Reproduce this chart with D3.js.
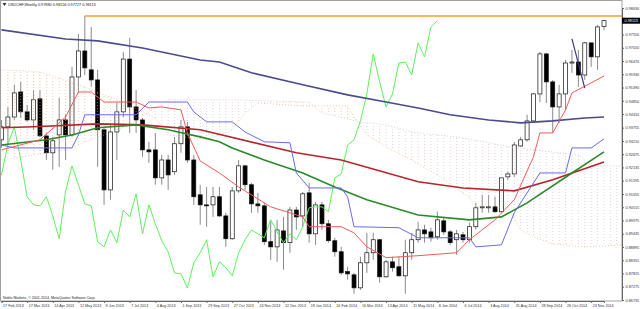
<!DOCTYPE html>
<html>
<head>
<meta charset="utf-8">
<script src="https://cdn.jsdelivr.net/npm/d3@7"></script>
<style>
  body { margin: 0; background: #fff; }
  svg { display: block; font-family: "Liberation Sans", Arial, sans-serif; }
</style>
</head>
<body>
<svg width="640" height="309"></svg>
<script>
// weekly USDCHF bars, index 0 = week of 17 Feb 2013
var opens = [0.9326,0.9379,0.9419,0.9521,0.9440,0.9407,0.9493,0.9342,0.9273,0.9346,
  0.9407,0.9346,0.9582,0.9688,0.9611,0.9570,0.9367,0.9122,0.9358,0.9440,
  0.9655,0.9460,0.9407,0.9285,0.9285,0.9171,0.9244,0.9196,0.9310,0.9379,
  0.9244,0.9102,0.9061,0.9061,0.9094,0.9016,0.8923,0.9118,0.9220,0.9143,
  0.9065,0.9057,0.8911,0.8890,0.8955,0.8907,0.9040,0.9016,0.9110,0.8943,
  0.9061,0.8984,0.8915,0.8870,0.8789,0.8776,0.8723,0.8825,0.8866,0.8919,
  0.8768,0.8829,0.8809,0.8772,0.8866,0.8919,0.8959,0.8951,0.8931,0.8996,
  0.8951,0.8919,0.8939,0.8919,0.8972,0.9049,0.9049,0.9053,0.9033,0.9175,
  0.9187,0.9301,0.9326,0.9403,0.9513,0.9676,0.9562,0.9460,0.9513,0.9639,
  0.9643,0.9590,0.9721,0.9664,0.97880];
var highs = [0.9407,0.9460,0.9550,0.9562,0.9468,0.9529,0.9529,0.9354,0.9338,0.9497,
  0.9428,0.9623,0.9757,0.9831,0.9786,0.9611,0.9375,0.9387,0.9480,0.9684,
  0.9741,0.9529,0.9415,0.9318,0.9354,0.9265,0.9265,0.9338,0.9407,0.9399,
  0.9265,0.9143,0.9134,0.9134,0.9134,0.9029,0.9134,0.9244,0.9224,0.9151,
  0.9110,0.9069,0.9000,0.9000,0.9012,0.9053,0.9053,0.9114,0.9151,0.9073,
  0.9073,0.9000,0.8927,0.8890,0.8809,0.8784,0.8850,0.8947,0.8947,0.8923,
  0.8837,0.8850,0.8850,0.8919,0.8947,0.8992,0.8980,0.8968,0.9033,0.9008,
  0.8959,0.8959,0.8951,0.8988,0.9069,0.9102,0.9102,0.9094,0.9175,0.9196,
  0.9318,0.9338,0.9428,0.9517,0.9684,0.9680,0.9570,0.9550,0.9651,0.9692,
  0.9692,0.9725,0.9721,0.9794,0.98156];
var lows = [0.9293,0.9305,0.9407,0.9415,0.9399,0.9367,0.9338,0.9244,0.9204,0.9216,
  0.9244,0.9338,0.9517,0.9590,0.9542,0.9216,0.9061,0.9082,0.9244,0.9419,
  0.9354,0.9354,0.9257,0.9232,0.9143,0.9143,0.9122,0.9183,0.9273,0.9232,
  0.9061,0.8980,0.8972,0.9012,0.9012,0.8890,0.8919,0.9110,0.9122,0.9029,
  0.9029,0.8898,0.8837,0.8829,0.8797,0.8866,0.8959,0.8972,0.8907,0.8898,
  0.8959,0.8907,0.8850,0.8776,0.8756,0.8699,0.8715,0.8784,0.8837,0.8744,
  0.8764,0.8789,0.8768,0.8699,0.8837,0.8907,0.8907,0.8911,0.8919,0.8939,
  0.8898,0.8858,0.8907,0.8907,0.8960,0.9029,0.9029,0.9029,0.9029,0.9163,
  0.9175,0.9297,0.9318,0.9395,0.9480,0.9476,0.9354,0.9395,0.9448,0.9599,
  0.9542,0.9570,0.9623,0.9611,0.97727];
var closes = [0.9379,0.9419,0.9517,0.9440,0.9407,0.9489,0.9342,0.9273,0.9322,0.9407,
  0.9346,0.9582,0.9688,0.9619,0.9570,0.9367,0.9122,0.9358,0.9440,0.9655,
  0.9460,0.9407,0.9285,0.9277,0.9171,0.9244,0.9183,0.9310,0.9379,0.9244,
  0.9094,0.9061,0.9057,0.9094,0.9016,0.8923,0.9118,0.9220,0.9143,0.9065,
  0.9057,0.8911,0.8890,0.8959,0.8907,0.9040,0.9012,0.9106,0.8943,0.9061,
  0.8984,0.8915,0.8870,0.8784,0.8780,0.8723,0.8825,0.8866,0.8919,0.8768,
  0.8829,0.8805,0.8772,0.8866,0.8919,0.8959,0.8943,0.8927,0.9000,0.8951,
  0.8907,0.8943,0.8919,0.8972,0.9049,0.9053,0.9053,0.9033,0.9171,0.9187,
  0.9305,0.9326,0.9403,0.9513,0.9676,0.9562,0.9460,0.9513,0.9639,0.9643,
  0.9590,0.9721,0.9664,0.9786,0.98113];

// moving averages, [bar, price]
var maSlow = [[0,0.9774],[10,0.9737],[15,0.9729],[22,0.9700],[31,0.9651],[34,0.9643],[39,0.9599],
  [47,0.9550],[54,0.9509],[60,0.9480],[65,0.9456],[70,0.9428],[76,0.9407],[81,0.9395],[86,0.9403],[91,0.9415],[94,0.9419]];
var maMid = [[0,0.9375],[5,0.9379],[15,0.9391],[22,0.9387],[31,0.9367],[46,0.9273],[53,0.9244],
  [65,0.9155],[72,0.9130],[80,0.9118],[86,0.9163],[94,0.9236]];
var maFast = [[0,0.9305],[7,0.9326],[11,0.9346],[15,0.9375],[21,0.9387],[26,0.9367],[31,0.9338],[34,0.9318],
  [36,0.9293],[41,0.9244],[47,0.9191],[52,0.9134],[57,0.9082],[65,0.9020],[73,0.9000],[78,0.9012],[82,0.9069],[89,0.9191],[94,0.9277]];

// ichimoku lines
var tenkan = [[0,0.9285],[6,0.9326],[10,0.9419],[12,0.9521],[14,0.9521],[16,0.9480],[21,0.9480],[23,0.9456],
  [25,0.9460],[28,0.9448],[29,0.9354],[31,0.9240],[34,0.9191],[37,0.9134],[42,0.9053],[47,0.9012],[48,0.8972],
  [53,0.8972],[55,0.8947],[57,0.8890],[60,0.8846],[65,0.8854],[71,0.8866],[73,0.8919],[77,0.9000],[80,0.9082],
  [83,0.9257],[84,0.9354],[86,0.9354],[88,0.9448],[89,0.9517],[92,0.9558],[94,0.9586]];
var kijun = [[0,0.9305],[2,0.9293],[11,0.9293],[12,0.9346],[13,0.9428],[21,0.9428],[23,0.9480],[29,0.9480],
  [30,0.9440],[32,0.9399],[36,0.9399],[38,0.9358],[41,0.9318],[45,0.9314],[46,0.9191],[48,0.9130],[53,0.9130],
  [54,0.9094],[55,0.8972],[62,0.8968],[65,0.8927],[73,0.8927],[74,0.8890],[78,0.8898],[80,0.9029],[84,0.9191],
  [88,0.9191],[89,0.9293],[92,0.9293],[94,0.9330]];
var spanA = [[0,0.9611],[6,0.9603],[12,0.9550],[18,0.9489],[24,0.9415],[26,0.9346],[32,0.9326],[36,0.9367],
  [38,0.9436],[40,0.9476],[47,0.9464],[54,0.9464],[55,0.9419],[57,0.9346],[60,0.9297],[63,0.9257],[68,0.9183],
  [73,0.9090],[74,0.9053],[79,0.9053],[81,0.8959],[83,0.8931],[86,0.8902],[91,0.8890],[94,0.8894],[97,0.8898]];
var spanB = [[0,0.9244],[10,0.9285],[20,0.9387],[26,0.9489],[35,0.9489],[48,0.9480],[50,0.9436],[56,0.9399],
  [60,0.9387],[64,0.9358],[72,0.9334],[80,0.9294],[90,0.9265],[91,0.9243],[92,0.9220],[97,0.9220]];
var chikouShift = 26;

// axis labels
var priceTicks = [0.98630,0.98090,0.97550,0.97010,0.96470,0.95930,0.95390,0.94850,0.94310,0.93755,0.93210,
  0.92675,0.92135,0.91595,0.91055,0.90515,0.89975,0.89435,0.88895,0.88355,0.87815,0.87275,0.86735];
var dateBars = [0,4,8,12,16,20,24,28,32,36,40,44,48,52,56,60,64,68,72,76,80,84,88,92];
var dateLabels = ["17 Feb 2013","17 Mar 2013","14 Apr 2013","12 May 2013","9 Jun 2013","7 Jul 2013",
  "4 Aug 2013","1 Sep 2013","29 Sep 2013","27 Oct 2013","24 Nov 2013","22 Dec 2013","19 Jan 2014",
  "16 Feb 2014","16 Mar 2014","13 Apr 2014","11 May 2014","8 Jun 2014","6 Jul 2014","3 Aug 2014",
  "31 Aug 2014","28 Sep 2014","26 Oct 2014","23 Nov 2014"];

// drawn objects
var resistance = {bar: 13, price: 0.98305};
var trendSeg = [[89, 0.9737], [91, 0.9537]];

var svg = d3.select("svg");
var W = 622, B = 301;

var x = d3.scaleLinear().domain([0, 94]).range([1.5, 604]);
var y = d3.scaleLinear().domain([0.86735, 0.98630]).range([300, 8]);

var defs = svg.append("defs");
defs.append("clipPath").attr("id", "plotclip")
  .append("rect").attr("x", 0).attr("y", 1).attr("width", W).attr("height", B - 1);

// sparse dotted hatch for the cloud
var step = x(1) - x(0);
function hatch(id, color, op) {
  var p = defs.append("pattern").attr("id", id)
    .attr("patternUnits", "userSpaceOnUse")
    .attr("width", step).attr("height", 3)
    .attr("patternTransform", "translate(" + (x(0) - 0.5) + ",0)");
  p.append("rect").attr("x", 0).attr("y", 0).attr("width", 1).attr("height", 1)
    .attr("fill", color).attr("fill-opacity", op);
}
hatch("hatchUp", "#f4a460", 0.6);
hatch("hatchDn", "#c9a6c9", 0.55);

var aboveArea = d3.area().x(function (d) { return x(d[0]); }).y0(1).y1(function (d) { return y(d[1]); });
var belowArea = d3.area().x(function (d) { return x(d[0]); }).y0(B).y1(function (d) { return y(d[1]); });
defs.append("clipPath").attr("id", "belowA").append("path").attr("d", belowArea(spanA));
defs.append("clipPath").attr("id", "belowB").append("path").attr("d", belowArea(spanB));

var g = svg.append("g").attr("clip-path", "url(#plotclip)");

// candles
var bars = d3.range(opens.length).map(function (i) {
  return { i: i, o: opens[i], h: highs[i], l: lows[i], c: closes[i] };
});
g.append("g").selectAll("line").data(bars).enter().append("line")
  .attr("x1", function (d) { return x(d.i); }).attr("x2", function (d) { return x(d.i); })
  .attr("y1", function (d) { return y(d.h); }).attr("y2", function (d) { return y(d.l); })
  .attr("stroke", "#8a8a8a").attr("stroke-width", 1);
g.append("g").selectAll("rect").data(bars).enter().append("rect")
  .attr("x", function (d) { return x(d.i) - 2; })
  .attr("width", 4)
  .attr("y", function (d) { return y(Math.max(d.o, d.c)); })
  .attr("height", function (d) { return Math.max(1, Math.abs(y(d.o) - y(d.c))); })
  .attr("fill", function (d) { return d.c >= d.o ? "#fff" : "#000"; })
  .attr("stroke", "#111").attr("stroke-width", 0.7);

// cloud: sandy where A above B, thistle where B above A
g.append("g").attr("clip-path", "url(#belowA)")
  .append("path").attr("d", aboveArea(spanB)).attr("fill", "url(#hatchUp)");
g.append("g").attr("clip-path", "url(#belowB)")
  .append("path").attr("d", aboveArea(spanA)).attr("fill", "url(#hatchDn)");

var line = d3.line().x(function (d) { return x(d[0]); }).y(function (d) { return y(d[1]); });
g.append("path").attr("d", line(spanA)).attr("fill", "none")
  .attr("stroke", "#f4a460").attr("stroke-opacity", 0.8).attr("stroke-width", 0.8).attr("stroke-dasharray", "1,2");
g.append("path").attr("d", line(spanB)).attr("fill", "none")
  .attr("stroke", "#c9a6c9").attr("stroke-opacity", 0.8).attr("stroke-width", 0.8).attr("stroke-dasharray", "1,2");

// chikou span: close shifted back
var chikou = closes.map(function (c, i) { return [i - chikouShift, c]; });
g.append("path").attr("d", line(chikou)).attr("fill", "none")
  .attr("stroke", "#5ef05e").attr("stroke-width", 1);

g.append("path").attr("d", line(maSlow)).attr("fill", "none").attr("stroke", "#4a4a8e").attr("stroke-width", 1.6);
g.append("path").attr("d", line(maMid)).attr("fill", "none").attr("stroke", "#b8242a").attr("stroke-width", 1.6);
g.append("path").attr("d", line(maFast)).attr("fill", "none").attr("stroke", "#2a8a2a").attr("stroke-width", 1.6);
g.append("path").attr("d", line(kijun)).attr("fill", "none").attr("stroke", "#6a6af0").attr("stroke-width", 1);
g.append("path").attr("d", line(tenkan)).attr("fill", "none").attr("stroke", "#f05a5a").attr("stroke-width", 1);

// drawn objects
g.append("line")
  .attr("x1", x(resistance.bar)).attr("x2", W)
  .attr("y1", y(resistance.price)).attr("y2", y(resistance.price))
  .attr("stroke", "#f0a02a").attr("stroke-width", 1.5);
g.append("path").attr("d", line(trendSeg)).attr("fill", "none")
  .attr("stroke", "#3a3a80").attr("stroke-width", 1.2);

// frame
svg.append("rect").attr("x", 0.5).attr("y", 0.5).attr("width", W - 0.5).attr("height", B - 0.5)
  .attr("fill", "none").attr("stroke", "#a0a0a0").attr("stroke-width", 1);

// right price axis
var lastClose = closes[closes.length - 1];
var yAxis = svg.append("g").attr("transform", "translate(" + W + ",0)")
  .call(d3.axisRight(y).tickValues(priceTicks).tickSize(2).tickPadding(1.5).tickFormat(d3.format(".5f")));
yAxis.select(".domain").attr("stroke", "#666");
yAxis.selectAll(".tick line").attr("stroke", "#666");
yAxis.selectAll(".tick text").attr("font-size", 3.8).attr("fill", "#333")
  .attr("font-family", "Liberation Sans, Arial, sans-serif");
yAxis.selectAll(".tick").filter(function (d) { return Math.abs(y(d) - y(lastClose)) < 5; }).select("text").remove();

svg.append("rect").attr("x", W).attr("y", y(lastClose) - 3).attr("width", 18).attr("height", 6).attr("fill", "#000");
svg.append("text").attr("x", W + 2.5).attr("y", y(lastClose) + 1.4)
  .attr("font-size", 3.8).attr("fill", "#fff").text(d3.format(".5f")(lastClose));

// bottom time axis
var xAxis = svg.append("g").attr("transform", "translate(0," + B + ")")
  .call(d3.axisBottom(x).tickValues(dateBars).tickSize(2).tickPadding(1.5)
    .tickFormat(function (d, i) { return dateLabels[i]; }));
xAxis.select(".domain").attr("stroke", "#666");
xAxis.selectAll(".tick line").attr("stroke", "#666");
xAxis.selectAll(".tick text").attr("font-size", 3.7).attr("fill", "#333")
  .attr("text-anchor", "start").attr("x", 1)
  .attr("font-family", "Liberation Sans, Arial, sans-serif");

// title and copyright
svg.append("path").attr("d", "M2.5,3 L6.5,3 L4.5,6 Z").attr("fill", "#333");
svg.append("text").attr("x", 8).attr("y", 6.2).attr("font-size", 3.8).attr("fill", "#222")
  .text("USDCHF,Weekly  0.97880 0.98156 0.97727 0.98113");
svg.append("text").attr("x", 3).attr("y", 299.3).attr("font-size", 3.6).attr("fill", "#222")
  .text("Noble Markets, \u00a9 2001-2014, MetaQuotes Software Corp.");
</script>
</body>
</html>
